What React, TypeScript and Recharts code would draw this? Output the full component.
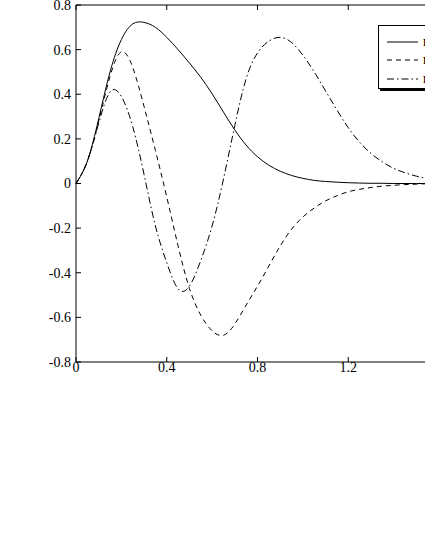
import React from 'react';
import { LineChart, Line, XAxis, YAxis, Legend } from 'recharts';

const xValues = [
  0, 0.05, 0.1, 0.15, 0.2, 0.25, 0.3, 0.35, 0.4, 0.45, 0.5, 0.55, 0.6, 0.65, 0.7, 0.75, 0.8,
  0.85, 0.9, 0.95, 1.0, 1.05, 1.1, 1.15, 1.2, 1.25, 1.3, 1.35, 1.4, 1.45, 1.5, 1.55, 1.6,
];

const solidValues = [
  0, 0.1, 0.29, 0.5, 0.645, 0.715, 0.722, 0.7, 0.655, 0.6, 0.54, 0.476, 0.402, 0.32, 0.24,
  0.172, 0.12, 0.082, 0.055, 0.036, 0.023, 0.014, 0.009, 0.006, 0.0035, 0.002, 0.001, 0.001, 0, 0,
  0, 0, 0,
];

const dashedValues = [
  0, 0.1, 0.28, 0.48, 0.59, 0.52, 0.345, 0.148, -0.06, -0.28, -0.47, -0.59, -0.66, -0.68, -0.63,
  -0.545, -0.46, -0.37, -0.28, -0.205, -0.15, -0.11, -0.078, -0.055, -0.037, -0.026, -0.018,
  -0.012, -0.008, -0.005, -0.003, -0.001, 0,
];

const dashDotValues = [
  0, 0.1, 0.27, 0.41, 0.39, 0.255, 0.04, -0.19, -0.355, -0.472, -0.46, -0.345, -0.19, 0.02, 0.26,
  0.47, 0.585, 0.638, 0.655, 0.632, 0.575, 0.5, 0.415, 0.33, 0.25, 0.185, 0.135, 0.097, 0.068,
  0.048, 0.033, 0.022, 0.015,
];

const xTicks = [0, 0.4, 0.8, 1.2, 1.6];
const yTicks = [-0.8, -0.6, -0.4, -0.2, 0, 0.2, 0.4, 0.6, 0.8];

const seriesKeys = ['s1', 's2', 's3'];
const seriesNames = ['n = 1', 'n = 2', 'n = 3'];
const seriesDashes = ['', '5 4', '7 3 1.5 3'];

const data = xValues.map((x, i) => ({
  x,
  s1: solidValues[i],
  s2: dashedValues[i],
  s3: dashDotValues[i],
}));

const font = 'Liberation Serif, Times New Roman, serif';
const tickStyle = { fontSize: 14, fill: '#000', fontFamily: font };

const LegendBox = () => (
  <div
    style={{
      border: '1px solid #000',
      background: '#fff',
      boxShadow: '2px 2px 0 #000',
      padding: '7px 0 0 8px',
      width: 90,
      boxSizing: 'border-box',
    }}
  >
    {seriesKeys.map((k, i) => (
      <div key={k} style={{ height: 18.3, display: 'flex', alignItems: 'center' }}>
        <svg width={31} height={4} style={{ display: 'block' }}>
          <line x1={0} y1={2} x2={31} y2={2} stroke="#000" strokeWidth={1} strokeDasharray={seriesDashes[i]} />
        </svg>
        <span style={{ marginLeft: 5, fontSize: 14, fontFamily: font, color: '#000', lineHeight: '14px' }}>
          {seriesNames[i]}
        </span>
      </div>
    ))}
  </div>
);

const App: React.FC = () => {
  return (
    <div style={{ position: 'absolute', left: 0, top: 0, width: 425, height: 550, overflow: 'hidden', background: '#fff' }}>
      <LineChart width={460} height={390} data={data} margin={{ top: 0, right: 21, bottom: 0, left: 0 }}>
        <XAxis
          dataKey="x"
          type="number"
          domain={[0, 1.6]}
          ticks={xTicks}
          tick={tickStyle}
          tickSize={-5}
          tickMargin={5}
          height={28}
          stroke="#000"
          interval={0}
        />
        <XAxis
          xAxisId="top"
          orientation="top"
          dataKey="x"
          type="number"
          domain={[0, 1.6]}
          ticks={xTicks}
          tickFormatter={() => ''}
          tickSize={-5}
          height={5}
          stroke="#000"
        />
        <YAxis
          type="number"
          domain={[-0.8, 0.8]}
          ticks={yTicks}
          tick={tickStyle}
          tickFormatter={(v: number) => String(v)}
          tickSize={-5}
          tickMargin={10}
          width={76}
          stroke="#000"
          interval={0}
          allowDataOverflow
        />
        <YAxis
          yAxisId="right"
          orientation="right"
          type="number"
          domain={[-0.8, 0.8]}
          ticks={yTicks}
          tickFormatter={() => ''}
          tickSize={-5}
          width={0}
          stroke="#000"
        />
        <Legend
          layout="horizontal"
          verticalAlign="middle"
          align="center"
          content={() => <LegendBox />}
          wrapperStyle={{ position: 'absolute', left: 378, top: 25, width: 90 }}
        />
        {seriesKeys.map((k, i) => (
          <Line
            key={k}
            dataKey={k}
            name={seriesNames[i]}
            type="natural"
            stroke="#000"
            strokeWidth={1}
            strokeDasharray={seriesDashes[i] || undefined}
            dot={false}
            isAnimationActive={false}
          />
        ))}
      </LineChart>
    </div>
  );
};

export default App;
